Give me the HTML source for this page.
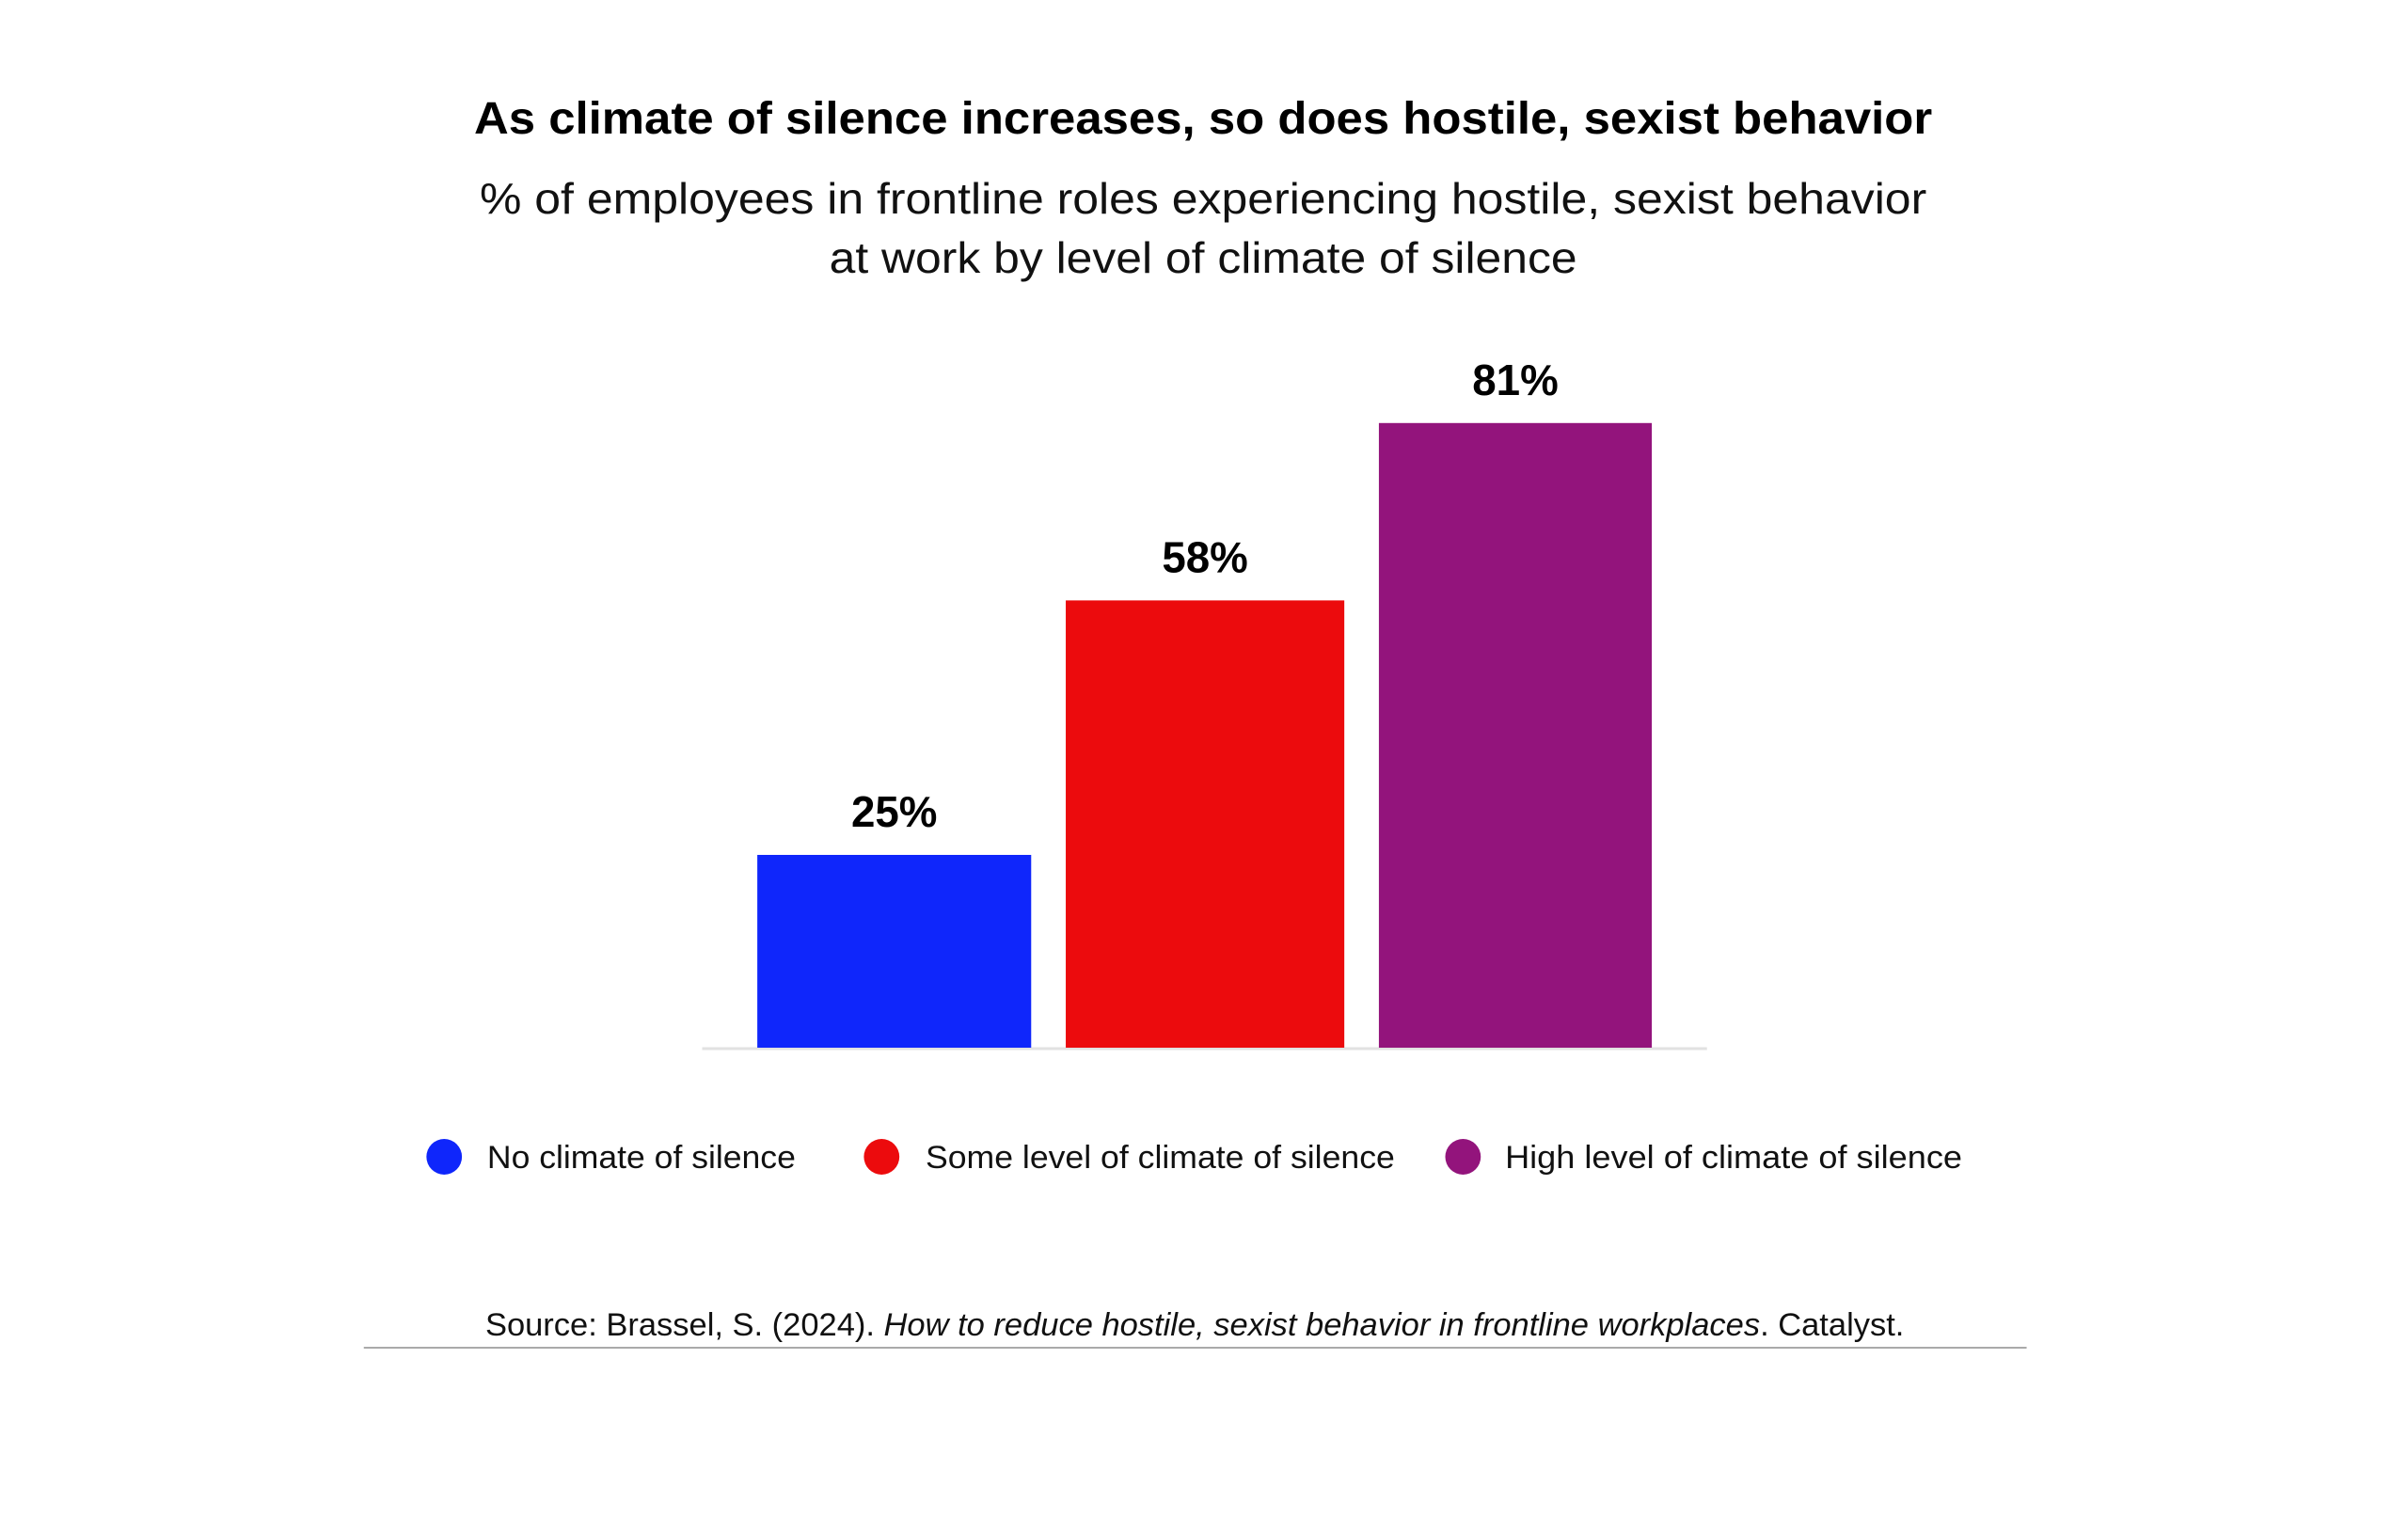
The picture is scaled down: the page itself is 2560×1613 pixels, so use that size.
<!DOCTYPE html>
<html><head><meta charset="utf-8"><style>
html,body{margin:0;padding:0;background:#fff;}
svg{display:block;font-family:"Liberation Sans",sans-serif;}
</style></head><body>
<svg id="chart" width="2560" height="1613" viewBox="0 0 2560 1613">
<g transform="translate(3.2,0) scale(0.9937,1)">
<text x="1284" y="142" text-anchor="middle" font-size="48" font-weight="bold" fill="#000" textLength="1560" lengthAdjust="spacingAndGlyphs">As climate of silence increases, so does hostile, sexist behavior</text>
<text x="1284" y="227" text-anchor="middle" font-size="46" fill="#111" textLength="1548" lengthAdjust="spacingAndGlyphs">% of employees in frontline roles experiencing hostile, sexist behavior</text>
<text x="1284" y="290" text-anchor="middle" font-size="46" fill="#111" textLength="800" lengthAdjust="spacingAndGlyphs">at work by level of climate of silence</text>
<line x1="748" y1="1115" x2="1823" y2="1115" stroke="#e2e2e2" stroke-width="3"/>
<g id="bars"></g>
<g>
<g><circle cx="472" cy="1230" r="19" fill="#0f26fb"/><text x="518" y="1242" font-size="34" fill="#111" textLength="330" lengthAdjust="spacingAndGlyphs">No climate of silence</text></g>
<g><circle cx="940" cy="1230" r="19" fill="#ec0b0d"/><text x="987" y="1242" font-size="34" fill="#111" textLength="502" lengthAdjust="spacingAndGlyphs">Some level of climate of silence</text></g>
<g><circle cx="1562" cy="1230" r="19" fill="#93147c"/><text x="1607" y="1242" font-size="34" fill="#111" textLength="489" lengthAdjust="spacingAndGlyphs">High level of climate of silence</text></g>
</g>
<text x="1275" y="1420" text-anchor="middle" font-size="34" fill="#111" textLength="1518" lengthAdjust="spacingAndGlyphs">Source: Brassel, S. (2024). <tspan font-style="italic">How to reduce hostile, sexist behavior in frontline workplaces</tspan>. Catalyst.</text>
<line x1="386" y1="1433" x2="2165" y2="1433" stroke="#aaa" stroke-width="2"/>
</g>
</svg>
<script>
const categories = ["No climate of silence", "Some level of climate of silence", "High level of climate of silence"];
const values = [25, 58, 81];
const valueLabels = ["25%", "58%", "81%"];
const colors = ["#0f26fb", "#ec0b0d", "#93147c"];
const NS = "http://www.w3.org/2000/svg";
const baseY = 1114, pxPerPct = 8.2;
const barX0 = [807, 1137, 1472], barW = [293, 298, 292];
function yScale(v){ return baseY - v * pxPerPct; }
const g = document.getElementById('bars');
values.forEach((v, i) => {
  const r = document.createElementNS(NS, 'rect');
  r.setAttribute('x', barX0[i]);
  r.setAttribute('y', yScale(v));
  r.setAttribute('width', barW[i]);
  r.setAttribute('height', baseY - yScale(v));
  r.setAttribute('fill', colors[i]);
  
  
  g.appendChild(r);
  const t = document.createElementNS(NS, 'text');
  t.setAttribute('x', barX0[i] + barW[i] / 2);
  t.setAttribute('y', yScale(v) - 30);
  t.setAttribute('text-anchor', 'middle');
  t.setAttribute('font-size', '46');
  t.setAttribute('font-weight', 'bold');
  t.setAttribute('fill', '#000');
  t.textContent = valueLabels[i];
  
  
  g.appendChild(t);
});
</script>
</body></html>
